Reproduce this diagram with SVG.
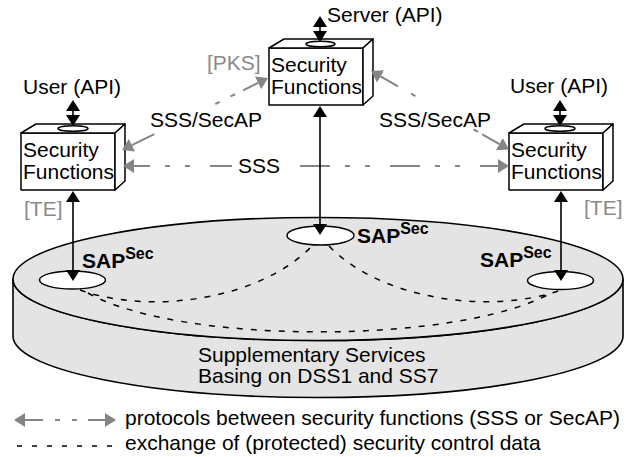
<svg xmlns="http://www.w3.org/2000/svg" width="637" height="457" viewBox="0 0 637 457">
<style>
text{font-family:"Liberation Sans",Arial,Helvetica,sans-serif;font-size:21px;fill:#000}
.gt{fill:#8a8a8a}
.sap{font-weight:bold}
.sup{font-size:16px;font-weight:bold}
.box{fill:#fff;stroke:#000;stroke-width:1.5;stroke-linejoin:round}
.port{fill:#fff;stroke:#000;stroke-width:1.5}
.disk{fill:#e4e4e4;stroke:#000;stroke-width:1.6}
.blk{stroke:#000;stroke-width:1.6;fill:none;marker-start:url(#abs);marker-end:url(#abe)}
.gry{stroke:#858585;stroke-width:2;fill:none;marker-start:url(#ags);marker-end:url(#age)}
.dash{stroke:#000;stroke-width:1.5;fill:none;stroke-dasharray:6 8}
</style>
<defs>
<marker id="abe" viewBox="0 0 11 14" refX="0" refY="7" markerWidth="11" markerHeight="14" markerUnits="userSpaceOnUse" orient="auto"><path d="M0,0 L11,7 L0,14 Z" fill="#000"/></marker>
<marker id="abs" viewBox="0 0 11 14" refX="11" refY="7" markerWidth="11" markerHeight="14" markerUnits="userSpaceOnUse" orient="auto"><path d="M11,0 L0,7 L11,14 Z" fill="#000"/></marker>
<marker id="age" viewBox="0 0 11 14" refX="0" refY="7" markerWidth="11" markerHeight="14" markerUnits="userSpaceOnUse" orient="auto"><path d="M0,0 L11,7 L0,14 Z" fill="#858585"/></marker>
<marker id="ags" viewBox="0 0 11 14" refX="11" refY="7" markerWidth="11" markerHeight="14" markerUnits="userSpaceOnUse" orient="auto"><path d="M11,0 L0,7 L11,14 Z" fill="#858585"/></marker>
</defs>

<g id="network">
<path class="disk" d="M13,279 L13,336 A305,61.5 0 0 0 623,336 L623,279 A305,61.5 0 0 1 13,279 Z"/>
<ellipse class="disk" cx="318" cy="279" rx="305" ry="61.5"/>
<text x="198" y="362">Supplementary Services</text>
<text x="198" y="383">Basing on DSS1 and SS7</text>
</g>

<g id="sap-left">
<ellipse class="port" cx="72.5" cy="280" rx="33" ry="9"/>
<text class="sap" x="82" y="268">SAP<tspan class="sup" dy="-9">Sec</tspan></text>
</g>
<g id="sap-center">
<ellipse class="port" cx="320.5" cy="235.5" rx="33.5" ry="9.5"/>
<text class="sap" x="357" y="243">SAP<tspan class="sup" dy="-9">Sec</tspan></text>
</g>
<g id="sap-right">
<ellipse class="port" cx="560.5" cy="280.5" rx="33" ry="9"/>
<text class="sap" x="480" y="267">SAP<tspan class="sup" dy="-9">Sec</tspan></text>
</g>

<g id="sf-left">
<rect class="box" x="21" y="133" width="94" height="57"/>
<polygon class="box" points="21,133 36,124 125,124 115,133"/>
<polygon class="box" points="115,133 125,124 125,181 115,190"/>
<ellipse class="port" cx="73" cy="128.5" rx="15" ry="2.8"/>
<text x="23" y="156.5">Security</text>
<text x="23" y="178.5">Functions</text>
<text x="23" y="94">User (API)</text>
<text class="gt" x="24" y="216">[TE]</text>
</g>

<g id="sf-center">
<rect class="box" x="269" y="48" width="94" height="57"/>
<polygon class="box" points="269,48 284,39 373,39 363,48"/>
<polygon class="box" points="363,48 373,39 373,96 363,105"/>
<ellipse class="port" cx="320.5" cy="44" rx="14.5" ry="2.8"/>
<text x="271" y="71.5">Security</text>
<text x="271" y="93.5">Functions</text>
<text x="327" y="22">Server (API)</text>
<text class="gt" x="207" y="70">[PKS]</text>
</g>

<g id="sf-right">
<rect class="box" x="509" y="133" width="94" height="57"/>
<polygon class="box" points="509,133 524,124 613,124 603,133"/>
<polygon class="box" points="603,133 613,124 613,181 603,190"/>
<ellipse class="port" cx="560" cy="128.5" rx="15" ry="2.8"/>
<text x="511" y="156.5">Security</text>
<text x="511" y="178.5">Functions</text>
<text x="510" y="93">User (API)</text>
<text class="gt" x="584" y="215">[TE]</text>
</g>

<g id="connectors">
<path class="dash" d="M80,290 C150,315 260,300 312,246"/>
<path class="dash" d="M329,246 C381,300 491,315 561,290"/>
<path class="dash" d="M88,293 C180,345 460,345 553,292"/>
<line class="gry" x1="134" y1="166" x2="498" y2="166" stroke-dasharray="16 15 5 15 5 20 22 68 30 15 5 15 5 20 30 15 5 15 5 20 18"/>
<line class="gry" x1="131.9" y1="145.1" x2="258.1" y2="82.9" stroke-dasharray="25 68 5 12 5 9 20"/>
<line class="gry" x1="380.6" y1="76.4" x2="499.4" y2="144.1" stroke-dasharray="20 15 5 67 5 5 20"/>
<line class="blk" x1="73" y1="111" x2="73" y2="115"/>
<line class="blk" x1="320" y1="27" x2="320" y2="31"/>
<line class="blk" x1="560" y1="111" x2="560" y2="115"/>
<line class="blk" x1="73" y1="202" x2="73" y2="270"/>
<line class="blk" x1="320" y1="117" x2="320" y2="224"/>
<line class="blk" x1="561" y1="202" x2="561" y2="270"/>
</g>

<g id="labels">
<text x="150" y="127">SSS/SecAP</text>
<text x="379" y="127">SSS/SecAP</text>
<text x="238" y="173">SSS</text>
</g>

<g id="legend">
<line class="gry" x1="25" y1="420" x2="105" y2="420" stroke-dasharray="18 12 5 12 5 11 17"/>
<line stroke="#000" stroke-width="1.5" stroke-dasharray="5 10" x1="17" y1="446" x2="115" y2="446"/>
<text x="125" y="425">protocols between security functions (SSS or SecAP)</text>
<text x="125" y="450">exchange of (protected) security control data</text>
</g>
</svg>
